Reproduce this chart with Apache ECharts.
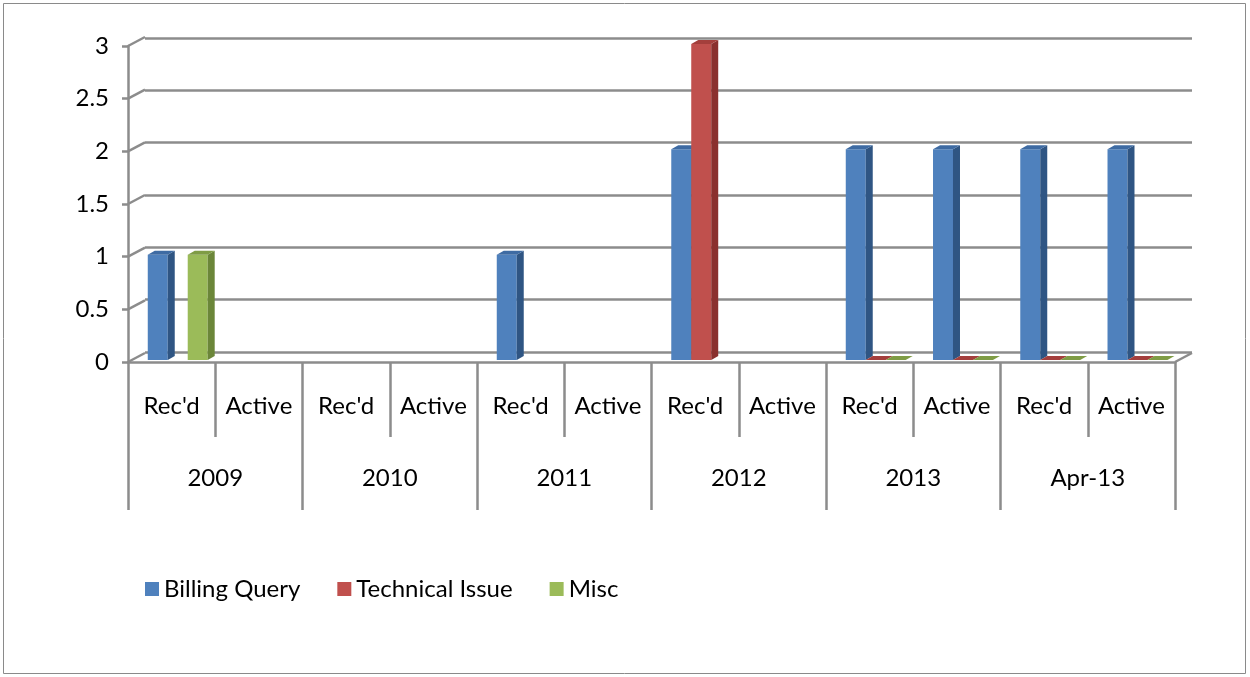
<!DOCTYPE html>
<html>
<head>
<meta charset="utf-8">
<title>Queries by year</title>
<script src="https://cdn.jsdelivr.net/npm/echarts@6/dist/echarts.min.js"></script>
<style>
  html, body { margin: 0; padding: 0; background: #fff; }
  #main { width: 1250px; height: 677px; }
</style>
</head>
<body>
<div id="main"></div>
<script>
// sub categories and the year groups under them
var categories = ["Rec'd", "Active", "Rec'd", "Active", "Rec'd", "Active",
                  "Rec'd", "Active", "Rec'd", "Active", "Rec'd", "Active"];
var years = ['2009', '2010', '2011', '2012', '2013', 'Apr-13'];

// null = blank cell (nothing drawn), 0 = flat slab
var billingQuery   = [1, null, null, null, 1, null, 2, null, 2, 2, 2, 2];
var technicalIssue = [null, null, null, null, null, null, 3, null, 0, 0, 0, 0];
var misc           = [1, null, null, null, null, null, null, null, 0, 0, 0, 0];

var yTicks = [0, 0.5, 1, 1.5, 2, 2.5, 3];

var GRID = '#8c8c8c';
var DX = 17, DY = 9; // depth of the walls
var fontFam = 'Lato, "Noto Sans", sans-serif';

// 3d-ish column: front face, side face, top face
function boxRenderer(slot, front, side, topc) {
  return function(params, api) {
    var v = api.value(1);
    if (v == null || isNaN(v)) return;
    var band = api.size([1, 0])[0];
    var base = api.coord([api.value(0), 0]);
    var top = api.coord([api.value(0), v]);
    var w = band * 0.229;
    var x = base[0] + band * 0.07 + (slot - 1) * w - w / 2;
    var yb = base[1] - 2, yt = top[1] - 2;
    var dx = 7, dy = 4;
    var kids = [];
    if (yb - yt > 0) {
      kids.push({ type: 'rect', shape: { x: x, y: yt, width: w, height: yb - yt }, style: { fill: front } });
      kids.push({ type: 'polygon', shape: { points: [[x + w, yt], [x + w + dx, yt - dy], [x + w + dx, yb - dy], [x + w, yb]] }, style: { fill: side } });
    }
    kids.push({ type: 'polygon', shape: { points: [[x, yt], [x + dx, yt - dy], [x + w + dx, yt - dy], [x + w, yt]] }, style: { fill: topc } });
    return { type: 'group', children: kids };
  };
}

function toData(arr) {
  return arr.map(function(v, i) { return [i, v]; });
}

var myChart = echarts.init(document.getElementById('main'));

var option = {
  backgroundColor: '#fff',
  animation: false,
  graphic: [{
    type: 'rect', shape: { x: 3.5, y: 3.5, width: 1242, height: 670 },
    style: { fill: 'none', stroke: '#8a8a8a', lineWidth: 1 }, silent: true
  }],
  legend: {
    left: 140, top: 572,
    itemWidth: 14, itemHeight: 14, itemGap: 37,
    icon: 'rect',
    textStyle: { fontSize: 24, fontFamily: fontFam, color: '#000' },
    data: ['Billing Query', 'Technical Issue', 'Misc']
  },
  grid: [
    { left: 128, right: 75, top: 46, bottom: 315 },   // front plane
    { left: 145, right: 58, top: 38, bottom: 325 }    // back wall
  ],
  xAxis: [
    {
      type: 'category', gridIndex: 0, data: categories,
      axisLine: { show: true, lineStyle: { color: GRID, width: 2.5 } },
      axisTick: { show: true, interval: 0, length: 75, lineStyle: { color: GRID, width: 2.5 } },
      axisLabel: { interval: 0, margin: 32, fontSize: 24, fontFamily: fontFam, color: '#000' },
      splitLine: { show: false }
    },
    {
      type: 'category', gridIndex: 0, data: years, position: 'bottom',
      axisLine: { show: false },
      axisTick: { show: true, interval: 0, length: 148, lineStyle: { color: GRID, width: 2.5 } },
      axisLabel: { interval: 0, margin: 104, fontSize: 24, fontFamily: fontFam, color: '#000' },
      splitLine: { show: false }
    },
    {
      type: 'category', gridIndex: 1, data: categories, show: false
    }
  ],
  yAxis: [
    {
      type: 'value', gridIndex: 0, min: 0, max: 3, interval: 0.5,
      axisLine: { show: true, lineStyle: { color: GRID, width: 2.5 } },
      axisTick: { show: true, length: 6, lineStyle: { color: GRID, width: 2.5 } },
      axisLabel: { margin: 19, fontSize: 24, fontFamily: fontFam, color: '#000' },
      splitLine: { show: false }
    },
    {
      type: 'value', gridIndex: 1, min: 0, max: 3, interval: 0.5,
      axisLine: { show: false }, axisTick: { show: false }, axisLabel: { show: false },
      splitLine: { show: true, lineStyle: { color: GRID, width: 2.5 } }
    }
  ],
  series: [
    {
      // side wall diagonals + right floor corner
      type: 'custom', xAxisIndex: 0, yAxisIndex: 0, silent: true, z: 1,
      data: yTicks.map(function(t) { return [0, t]; }),
      renderItem: function(params, api) {
        var band = api.size([1, 0])[0];
        var p = api.coord([0, api.value(1)]);
        var lx = p[0] - band / 2;
        var kids = [{ type: 'line', shape: { x1: lx, y1: p[1], x2: lx + DX, y2: p[1] - DY }, style: { stroke: GRID, lineWidth: 2.5 } }];
        if (api.value(1) === 0) {
          var r = api.coord([categories.length - 1, 0]);
          var rx = r[0] + band / 2;
          kids.push({ type: 'line', shape: { x1: rx, y1: r[1], x2: rx + DX, y2: r[1] - DY }, style: { stroke: GRID, lineWidth: 2.5 } });
        }
        return { type: 'group', children: kids };
      }
    },
    {
      name: 'Billing Query', type: 'custom', xAxisIndex: 0, yAxisIndex: 0, z: 3,
      itemStyle: { color: '#4F81BD' },
      data: toData(billingQuery),
      renderItem: boxRenderer(0, '#4F81BD', '#2F5583', '#3E6BA3')
    },
    {
      name: 'Technical Issue', type: 'custom', xAxisIndex: 0, yAxisIndex: 0, z: 3,
      itemStyle: { color: '#C0504D' },
      data: toData(technicalIssue),
      renderItem: boxRenderer(1, '#C0504D', '#8A302E', '#A43F3C')
    },
    {
      name: 'Misc', type: 'custom', xAxisIndex: 0, yAxisIndex: 0, z: 3,
      itemStyle: { color: '#9BBB59' },
      data: toData(misc),
      renderItem: boxRenderer(2, '#9BBB59', '#6B8639', '#7F9C45')
    }
  ]
};

myChart.setOption(option);
</script>
</body>
</html>
